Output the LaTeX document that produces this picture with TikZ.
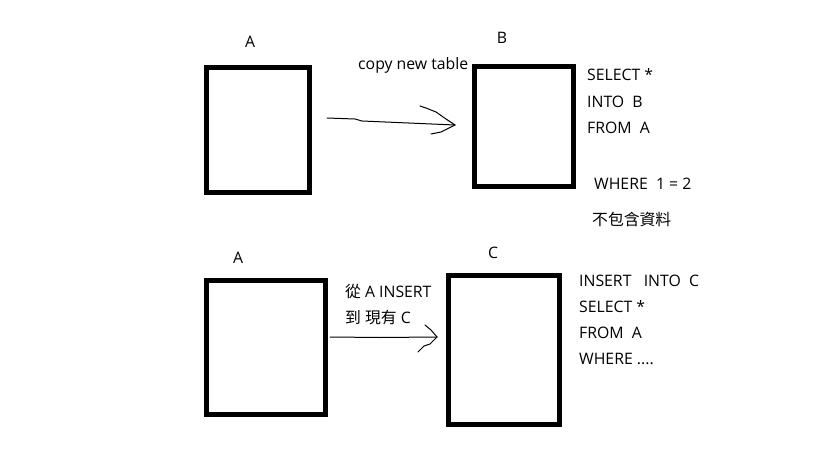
\documentclass[tikz,border=0pt]{standalone}
\usepackage{fontspec}
\setmainfont{Open Sans}
\newfontfamily\cjk{Noto Sans CJK TC}
\usetikzlibrary{positioning}

\begin{document}
\begin{tikzpicture}[x=1pt, y=-1pt, font=\fontsize{15.8}{18}\selectfont,
tblbox/.style={draw, line width=5pt, inner sep=0pt},
tbllabel/.style={inner sep=0pt},
sql/.style={anchor=west, inner sep=0pt, align=left},
hand/.style={line width=1pt, line join=round, line cap=round}]
\useasboundingbox (0,0) rectangle (819,460);
% tables
\node[tblbox, minimum width=103pt, minimum height=125pt] (a1) at (258,130) {};
\node[tblbox, minimum width=98.5pt, minimum height=119.5pt] (b) at (524,126.3) {};
\node[tblbox, minimum width=118.5pt, minimum height=134pt] (a2) at (265.8,347.8) {};
\node[tblbox, minimum width=110.7pt, minimum height=149pt] (c) at (503.8,350.3) {};
\node[tbllabel] (la1) at (250,42) {A};
\node[tbllabel] (lb) at (502,38) {B};
\node[tbllabel] (la2) at (238,258) {A};
\node[tbllabel] (lc) at (493,253) {C};
% sql text
\node[sql] (s1) at (587,75) {SELECT *};
\node[sql] (s2) at (587,102) {INTO\ \ B};
\node[sql] (s3) at (587,128) {FROM\ \ A};
\node[sql] (s4) at (594,184) {WHERE\ \ 1 = 2};
\node[sql] (s5) at (592,219) {\cjk 不包含資料};
\node[sql] (t1) at (579,281) {INSERT\ \ \ INTO\ \ C};
\node[sql] (t2) at (579,307) {SELECT *};
\node[sql] (t3) at (579,333) {FROM\ \ A};
\node[sql] (t4) at (579,359) {WHERE ....};
% arrows
\node[sql] (copy) at (358,65) {copy new table};
\node[sql] (ins1) at (345,292) {{\cjk 從} A INSERT};
\node[sql] (ins2) at (345,318) {{\cjk 到}\ {\cjk 現有} C};
\coordinate (p1) at (327,118);
\coordinate (q1) at (455,125);
\coordinate (p2) at (330,337);
\coordinate (q2) at (437,337);
\draw[hand] (p1) -- (355,119) -- (362,121) -- (q1);
\draw[hand] (420,106) -- (426,108) -- (436,112) -- (446,119) -- (q1);
\draw[hand] (431,134) -- (441,132) -- (q1);
\draw[hand] (p2) -- (380,337.5) -- (q2);
\draw[hand] (425,325) -- (431,330) -- (q2);
\draw[hand] (418,352) -- (424,346) -- (430,344) -- (q2);
\end{tikzpicture}
\end{document}
